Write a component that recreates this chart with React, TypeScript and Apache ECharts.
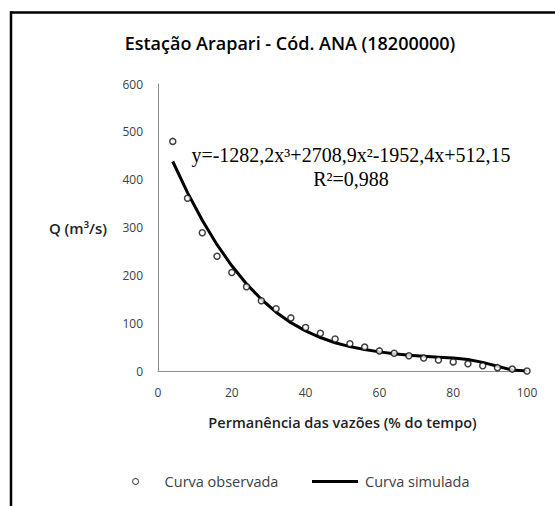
import React, { useEffect, useRef } from "react";
import * as echarts from "echarts";

const permanence = [4, 8, 12, 16, 20, 24, 28, 32, 36, 40, 44, 48, 52, 56, 60, 64, 68, 72, 76, 80, 84, 88, 92, 96, 100];
const observed = [480, 361, 289, 240, 206, 176, 147, 130, 111, 91, 79, 67, 57, 50, 42, 37, 32, 27, 23, 19, 15, 11, 7, 4, 0];
const simulated = [438, 373, 315, 264, 220, 182, 150, 123, 101, 84, 70, 59, 51, 45, 40, 36, 33, 31, 29, 27, 24, 18, 10, 2, 0];
const yTicks = [0, 100, 200, 300, 400, 500, 600];
const xTicks = [0, 20, 40, 60, 80, 100];

const TITLE = "Estação Arapari - Cód. ANA (18200000)";
const X_NAME = "Permanência das vazões (% do tempo)";
const Y_NAME = "Q (m³/s)";
const EQUATION = "y=-1282,2x³+2708,9x²-1952,4x+512,15";
const R2 = "R²=0,988";
const OBS_NAME = "Curva observada";
const SIM_NAME = "Curva simulada";

const FONT = "'Open Sans', sans-serif";

export default function App() {
  const ref = useRef<HTMLDivElement>(null);
  useEffect(() => {
    document.body.style.margin = "0";
    if (!ref.current) return;
    const chart = echarts.init(ref.current, null, { renderer: "svg" });
    chart.setOption({
      animation: false,
      backgroundColor: "#ffffff",
      title: {
        text: TITLE,
        left: 285,
        top: 29,
        textAlign: "center",
        textStyle: { fontFamily: FONT, fontSize: 18, fontWeight: 600, color: "#000" },
      },
      grid: { left: 158, top: 84, right: 28, bottom: 135, containLabel: false },
      xAxis: {
        type: "value",
        min: xTicks[0],
        max: xTicks[xTicks.length - 1],
        interval: 20,
        name: X_NAME,
        nameLocation: "middle",
        nameGap: 44,
        nameTextStyle: { fontFamily: FONT, fontSize: 14.5, fontWeight: 600, color: "#222" },
        axisLine: { show: true, lineStyle: { color: "#8c8c8c", width: 1 } },
        axisTick: { show: false },
        splitLine: { show: false },
        axisLabel: { fontFamily: FONT, fontSize: 12, color: "#404040", margin: 15 },
      },
      yAxis: {
        type: "value",
        min: yTicks[0],
        max: yTicks[yTicks.length - 1],
        interval: 100,
        name: Y_NAME,
        nameLocation: "middle",
        nameRotate: 0,
        nameGap: 51,
        nameTextStyle: { fontFamily: FONT, fontSize: 15, fontWeight: 600, color: "#222" },
        axisLine: { show: true, lineStyle: { color: "#8c8c8c", width: 1 } },
        axisTick: { show: false },
        splitLine: { show: false },
        axisLabel: { fontFamily: FONT, fontSize: 12, color: "#404040", margin: 15 },
      },
      legend: [
        {
          left: 127,
          top: 469,
          itemWidth: 6,
          itemHeight: 6,
          data: [
            {
              name: OBS_NAME,
              icon: "circle",
              itemStyle: { color: "#fff", borderColor: "#333", borderWidth: 1.2 },
            },
          ],
          textStyle: { fontFamily: FONT, fontSize: 14.5, color: "#404040", padding: [0, 0, 0, 21] },
        },
        {
          left: 307,
          top: 469,
          itemWidth: 46,
          itemHeight: 3,
          data: [
            {
              name: SIM_NAME,
              icon: "rect",
              itemStyle: { color: "#000", borderWidth: 0 },
            },
          ],
          textStyle: { fontFamily: FONT, fontSize: 14.5, color: "#404040", padding: [0, 0, 0, 2] },
        },
      ],
      series: [
        {
          name: SIM_NAME,
          type: "line",
          data: permanence.map((x, i) => [x, simulated[i]]),
          symbol: "none",
          smooth: false,
          lineStyle: { color: "#000", width: 3 },
          itemStyle: { color: "#000" },
          z: 2,
        },
        {
          name: OBS_NAME,
          type: "scatter",
          data: permanence.map((x, i) => [x, observed[i]]),
          symbol: "circle",
          symbolSize: 6,
          itemStyle: { color: "#fff", borderColor: "#111", borderWidth: 1.5 },
          z: 3,
        },
      ],
      graphic: [
        { type: "line", shape: { x1: 10, y1: 12.5, x2: 555, y2: 12.5 }, style: { stroke: "#000", lineWidth: 2.5 } },
        { type: "line", shape: { x1: 11, y1: 11.5, x2: 11, y2: 506 }, style: { stroke: "#000", lineWidth: 2.5 } },
        {
          type: "text",
          x: 351,
          y: 155,
          style: {
            text: EQUATION,
            fontFamily: "'Liberation Serif', serif",
            fontSize: 20,
            fill: "#000",
            textAlign: "center",
            textVerticalAlign: "middle",
          },
        },
        {
          type: "text",
          x: 351,
          y: 179,
          style: {
            text: R2,
            fontFamily: "'Liberation Serif', serif",
            fontSize: 20,
            fill: "#000",
            textAlign: "center",
            textVerticalAlign: "middle",
          },
        },
      ],
    });
    return () => chart.dispose();
  }, []);
  return <div ref={ref} style={{ width: 555, height: 506 }} />;
}
